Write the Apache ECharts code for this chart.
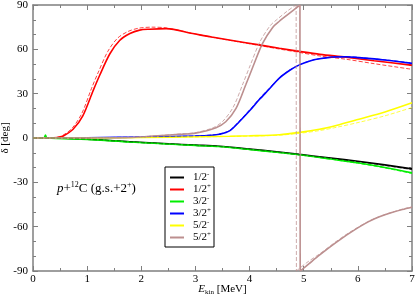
<!DOCTYPE html>
<html><head><meta charset="utf-8">
<script src="https://cdn.jsdelivr.net/npm/echarts@6/dist/echarts.min.js"></script>
<style>html,body{margin:0;padding:0;background:#fff}#c{width:415px;height:298px}</style>
</head><body><div id="c"></div>
<script>
const xTicks = [0,1,2,3,4,5,6,7];
const yTicks = [-90,-60,-30,0,30,60,90];
const names = ['1/2-','1/2+','3/2-','3/2+','5/2-','5/2+'];
const colors = ['#000000','#ff0000','#00ee00','#0000ff','#ffff00','#bc8f8f'];

const black1 = [[0,0],[0.3,0],[1,-0.8],[1.79,-2.5],[2.5,-3.9],[3.0,-4.8],[3.44,-5.6],[4.0,-7.5],[4.5,-9.3],[4.92,-11.1],[5.5,-13.5],[6.0,-15.7],[6.5,-18.2],[7,-20.9]];
const black2 = [[0,0],[0.3,0],[1,-0.8],[1.79,-2.6],[2.5,-4.0],[3.0,-4.9],[3.44,-5.7],[4.0,-7.6],[4.5,-9.5],[4.92,-11.3],[5.5,-13.8],[6.0,-16.0],[6.5,-18.6],[7,-21.4]];
const red1 = [[0,0],[0.3,0],[0.45,0.3],[0.56,1.4],[0.74,5.9],[0.92,15],[1.11,32],[1.23,42.3],[1.42,57],[1.6,66],[1.79,70.7],[1.97,73],[2.15,73.6],[2.46,74],[2.95,70.7],[3.3,68.3],[3.68,66],[4.18,63],[4.55,60.7],[4.92,58.6],[5.3,56.6],[5.78,54.7],[6.3,52.3],[6.94,49.5],[7,49.2]];
const red2 = [[0,0],[0.3,0],[0.45,0.5],[0.55,1.8],[0.72,6.5],[0.9,16.5],[1.08,33.5],[1.2,44],[1.38,58.5],[1.56,67.5],[1.75,72],[1.95,74.3],[2.2,75],[2.46,74.5],[2.95,70.8],[3.3,68.2],[3.68,65.8],[4.18,62.6],[4.55,60.2],[4.92,57.9],[5.3,55.5],[5.78,53.3],[6.3,50.3],[6.94,46.8],[7,46.5]];
const green1 = [[0,0],[0.2,0],[0.23,2],[0.26,0],[1,-0.9],[1.79,-2.7],[2.5,-4.1],[3,-5],[3.44,-5.8],[4,-7.8],[4.5,-9.6],[4.92,-11.3],[5.5,-14.2],[6,-16.8],[6.5,-20],[7,-23.6]];
const green2 = [[0,0],[0.3,0],[1,-1.0],[1.79,-2.8],[2.5,-4.2],[3,-5.1],[3.44,-5.9],[4,-7.9],[4.5,-9.8],[4.92,-11.5],[5.5,-14.4],[6,-17.1],[6.5,-20.3],[7,-24]];
const blue1 = [[0,0],[1,0.2],[2.15,0.7],[3,1.4],[3.3,1.9],[3.44,2.5],[3.63,4.8],[3.81,11],[4.0,18.4],[4.18,26],[4.36,33],[4.55,40.5],[4.75,46],[4.92,49.5],[5.1,52],[5.29,53.6],[5.52,54.7],[5.78,55],[6.02,54.4],[6.5,52.8],[7,50.5]];
const blue2 = [[0,0],[1,0.2],[2.15,0.7],[3,1.4],[3.3,2.0],[3.44,2.7],[3.63,5.1],[3.81,11.5],[4.0,19],[4.18,26.6],[4.36,33.5],[4.55,40.8],[4.75,46.2],[4.92,49.6],[5.1,52],[5.29,53.6],[5.52,54.7],[5.78,55],[6.02,54.5],[6.5,52.9],[7,50.8]];
const yellow1 = [[0,0],[1,0.1],[2,0.3],[3,0.8],[3.63,1.2],[4.0,1.5],[4.55,2.2],[4.93,3.8],[5.29,5.9],[5.6,8.5],[6.02,12.7],[6.5,17.6],[7,23.8]];
const yellow2 = [[0,0],[1,0.1],[2,0.3],[3,0.7],[4.0,1.3],[4.55,1.9],[4.93,3.2],[5.29,5.0],[5.6,7.2],[6.02,10.6],[6.5,15.0],[7,20.6]];
const brown1 = [[0,0],[1,0.1],[1.79,0.3],[2.15,1.1],[2.76,2.6],[3.0,3.3],[3.38,7],[3.56,11],[3.75,20],[3.93,36],[4.06,48],[4.24,64],[4.43,75],[4.55,79],[4.74,84.5],[4.93,90],[4.935,-90],[5.1,-85],[5.29,-79.3],[5.6,-70.7],[5.84,-64.5],[6.2,-56.6],[6.5,-52],[6.82,-48.4],[7,-46.8]];
const brown2 = [[0,0],[1,0.1],[1.79,0.3],[2.15,1.2],[2.76,2.8],[3.0,3.6],[3.33,7],[3.51,11.5],[3.7,21],[3.88,37],[4.01,49],[4.19,65],[4.38,76],[4.5,80],[4.7,86],[4.86,90],[4.865,-90],[5.05,-84.5],[5.29,-78.5],[5.6,-70],[5.84,-64],[6.2,-56.3],[6.5,-51.8],[6.82,-48.2],[7,-46.6]];

const solids = [black1, red1, green1, blue1, yellow1, brown1];
const dashes = [black2, red2, green2, blue2, yellow2, brown2];

const series = [];
function addCurve(name, data, color, dashed) {
  const segs = [[data[0]]];
  const joins = [];
  for (let i = 1; i < data.length; i++) {
    if (Math.abs(data[i][1] - data[i-1][1]) > 150) {
      joins.push([data[i-1], data[i]]);
      segs.push([data[i]]);
    } else segs[segs.length-1].push(data[i]);
  }
  const ls = {color: color, width: dashed ? 1 : 1.6, type: dashed ? [4,2] : 'solid', opacity: dashed ? 0.75 : 1};
  segs.forEach((s, k) => series.push({
    name: k === 0 ? name : name + '#' + k, type: 'line', data: s, symbol: 'none', smooth: 0.3,
    lineStyle: ls, itemStyle: {color: color}, z: dashed ? 3 : 2, animation: false, silent: true
  }));
  joins.forEach((j, k) => series.push({
    name: name + '@' + k, type: 'line', data: j, symbol: 'none', smooth: false,
    lineStyle: ls, itemStyle: {color: color}, z: dashed ? 3 : 2, animation: false, silent: true
  }));
}
names.forEach((n, i) => { addCurve(n, solids[i], colors[i], false); });
names.forEach((n, i) => { addCurve('d' + n, dashes[i], colors[i], true); });

const FONT = 'Liberation Serif';
const axisGray = '#7f7f7f';
function xAx(pos, labels) {
  return {type: 'value', position: pos, min: 0, max: 7, interval: 1,
    axisLine: {show: true, onZero: false, lineStyle: {color: axisGray, width: 1.5}},
    axisTick: {show: true, inside: true, length: 5, lineStyle: {color: axisGray}},
    minorTick: {show: true, splitNumber: 2, length: 3, lineStyle: {color: axisGray}},
    splitLine: {show: false},
    axisLabel: {show: labels, margin: 3, color: '#000', fontFamily: FONT, fontSize: 11,
      formatter: v => xTicks.includes(v) ? String(v) : ''}};
}
function yAx(pos, labels) {
  return {type: 'value', position: pos, min: -90, max: 90, interval: 30,
    axisLine: {show: true, onZero: false, lineStyle: {color: axisGray, width: 1.5}},
    axisTick: {show: true, inside: true, length: 5, lineStyle: {color: axisGray}},
    minorTick: {show: true, splitNumber: 3, length: 3, lineStyle: {color: axisGray}},
    splitLine: {show: false},
    axisLabel: {show: labels, margin: 5, color: '#000', fontFamily: FONT, fontSize: 11,
      formatter: v => yTicks.includes(v) ? String(v) : ''}};
}
const xa = xAx('bottom', true);
xa.name = '{i|E}{sub|kin}{n| [MeV]}';
xa.nameLocation = 'middle'; xa.nameGap = 11; xa.nameMoveOverlap = false;
xa.nameTextStyle = {fontFamily: FONT, fontSize: 11, color: '#000', verticalAlign: 'top',
  rich: {i: {fontStyle: 'italic', fontFamily: FONT, fontSize: 11, lineHeight: 14},
         n: {fontFamily: FONT, fontSize: 11, lineHeight: 14},
         sub: {fontFamily: FONT, fontSize: 7, verticalAlign: 'bottom', lineHeight: 10}}};
const ya = yAx('left', true);
ya.name = 'δ [deg]'; ya.nameLocation = 'middle'; ya.nameGap = 22; ya.nameMoveOverlap = false;
ya.nameTextStyle = {fontFamily: FONT, fontSize: 11, color: '#000', verticalAlign: 'bottom'};
const xb = xAx('top', false);
const yb = yAx('right', false);

const chart = echarts.init(document.getElementById('c'), null, {renderer: 'canvas'});
chart.setOption({
  animation: false,
  backgroundColor: '#fff',
  grid: {left: 33, right: 3, top: 5, bottom: 27, containLabel: false, outerBoundsMode: 'none'},
  xAxis: [xa, xb],
  yAxis: [ya, yb],
  legend: {
    data: names, orient: 'vertical', left: 165, top: 167, icon: 'rect',
    itemWidth: 14, itemHeight: 2, itemGap: 0, padding: [4, 3, 4, 5],
    borderColor: '#000', borderWidth: 1, backgroundColor: '#fff', selectedMode: false,
    textStyle: {fontFamily: FONT, fontSize: 11, color: '#000', padding: [0, 0, 0, 4],
      rich: {n: {fontFamily: FONT, fontSize: 11, lineHeight: 13},
             s: {fontFamily: FONT, fontSize: 7, verticalAlign: 'top', lineHeight: 9}}},
    formatter: nm => '{n|' + nm.slice(0, 3) + '}{s|' + nm.slice(3) + '}'
  },
  graphic: [{
    type: 'text', left: 57, top: 181, z: 10,
    style: {text: '{i|p}{n|+}{s|12}{n|C (g.s.+2}{s|+}{n|)}', fill: '#000',
      rich: {i: {fontStyle: 'italic', fontFamily: FONT, fontSize: 13, lineHeight: 16},
             n: {fontFamily: FONT, fontSize: 13, lineHeight: 16},
             s: {fontFamily: FONT, fontSize: 8, verticalAlign: 'top', lineHeight: 10}}}
  }],
  series: series
});
</script></body></html>
